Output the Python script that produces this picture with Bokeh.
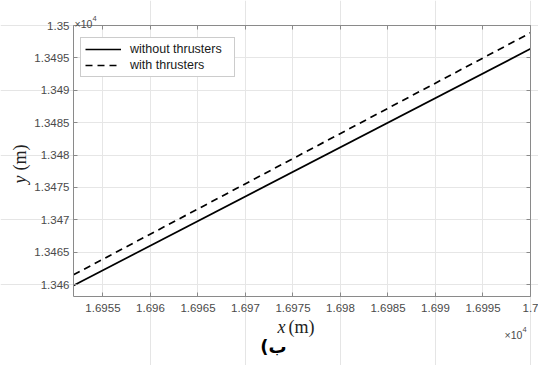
import math
from bokeh.plotting import figure
from bokeh.models import Range1d, LinearAxis, Label, Legend, LegendItem, FixedTicker, Grid
from bokeh.embed import file_html
from bokeh.resources import INLINE

# ---- data ----
x_without = [16951.9, 17000.0]
y_without = [13459.85, 13496.4]
x_with = [16951.9, 17000.0]
y_with = [13461.5, 13498.87]

x_ticks = [16955, 16960, 16965, 16970, 16975, 16980, 16985, 16990, 16995, 17000]
x_tick_labels = ["1.6955", "1.696", "1.6965", "1.697", "1.6975", "1.698",
                 "1.6985", "1.699", "1.6995", "1.7"]
y_ticks = [13460, 13465, 13470, 13475, 13480, 13485, 13490, 13495, 13500]
y_tick_labels = ["1.346", "1.3465", "1.347", "1.3475", "1.348", "1.3485",
                 "1.349", "1.3495", "1.35"]

series_names = ["without thrusters", "with thrusters"]

# axes limits of the plot box
X0, X1 = 16951.9, 17000.0
Y0, Y1 = 13458.15, 13500.0

W, H = 538, 365
# plot box position on the canvas (pixels)
FL, FR, FT, FB = 73, 530, 25, 296

sx = (FR - FL) / (X1 - X0)
sy = (FB - FT) / (Y1 - Y0)
XS, XE = X0 - FL / sx, X1 + (W - FR) / sx
YS, YE = Y0 - (H - FB) / sy, Y1 + FT / sy

def px_x(px):
    return XS + px / sx

def px_y(py):
    return YE - py / sy

AX = "#8a8a8a"
TXT = "#4a4a4a"

p = figure(width=W, height=H, x_range=Range1d(XS, XE), y_range=Range1d(YS, YE),
           output_backend="svg", toolbar_location=None,
           x_axis_location=None, y_axis_location=None,
           min_border=0, min_border_left=0, min_border_right=0,
           min_border_top=0, min_border_bottom=0)
p.background_fill_color = "white"
p.border_fill_color = "white"
p.outline_line_color = None

def make_axis(ticks, labels, show, loc, bounds):
    ax = LinearAxis(ticker=FixedTicker(ticks=ticks), fixed_location=loc, bounds=bounds)
    ax.major_tick_in = 4
    ax.major_tick_out = 0
    ax.minor_tick_line_color = None
    ax.axis_line_color = AX
    ax.axis_line_width = 1
    ax.major_tick_line_color = AX
    if show:
        ax.major_label_overrides = {float(t): l for t, l in zip(ticks, labels)}
        ax.major_label_text_font = "Liberation Sans"
        ax.major_label_text_font_size = "11.5px"
        ax.major_label_text_color = TXT
    else:
        ax.major_label_overrides = {float(t): "" for t in ticks}
        ax.major_label_text_font_size = "0px"
        ax.major_label_standoff = 0
    return ax

bottom_ax = make_axis(x_ticks, x_tick_labels, True, Y0, (X0, X1))
bottom_ax.major_label_standoff = 7
left_ax = make_axis(y_ticks, y_tick_labels, True, X0, (Y0, Y1))
left_ax.major_label_standoff = 4
top_ax = make_axis(x_ticks, x_tick_labels, False, Y1, (X0, X1))
right_ax = make_axis(y_ticks, y_tick_labels, False, X1, (Y0, Y1))
p.add_layout(bottom_ax, "below")
p.add_layout(left_ax, "left")
p.add_layout(top_ax, "above")
p.add_layout(right_ax, "right")

has_cross = "cross_bounds" in Grid.properties()
xgrid = Grid(dimension=0, ticker=FixedTicker(ticks=x_ticks), bounds=(X0, X1),
             grid_line_color="#e6e6e6", grid_line_width=1)
ygrid = Grid(dimension=1, ticker=FixedTicker(ticks=y_ticks), bounds=(Y0, Y1),
             grid_line_color="#e6e6e6", grid_line_width=1)
if has_cross:
    xgrid.cross_bounds = (Y0, Y1)
    ygrid.cross_bounds = (X0, X1)
    p.add_layout(xgrid, "center")
    p.add_layout(ygrid, "center")
else:
    p.segment(x0=x_ticks, y0=[Y0] * len(x_ticks), x1=x_ticks, y1=[Y1] * len(x_ticks),
              line_color="#e6e6e6", line_width=1)
    p.segment(x0=[X0] * len(y_ticks), y0=y_ticks, x1=[X1] * len(y_ticks), y1=y_ticks,
              line_color="#e6e6e6", line_width=1)

r1 = p.line(x_without, y_without, line_color="black", line_width=1.7)
r2 = p.line(x_with, y_with, line_color="black", line_width=1.7, line_dash="7 5")

# legend box: left at x 80, bottom at y 77
legend = Legend(items=[LegendItem(label=series_names[0], renderers=[r1]),
                       LegendItem(label=series_names[1], renderers=[r2])],
                location=(80, H - 77))
legend.border_line_color = "#9a9a9a"
legend.border_line_width = 1
legend.background_fill_color = "white"
legend.background_fill_alpha = 1
legend.label_text_font = "Liberation Sans"
legend.label_text_font_size = "12.5px"
legend.label_text_color = "#1a1a1a"
legend.glyph_width = 36
legend.glyph_height = 12
legend.label_height = 12
legend.label_width = 100
legend.padding = 4
legend.spacing = 2
legend.label_standoff = 9
legend.margin = 0
p.add_layout(legend)

def lab(px, py, text, font, size, color, style="normal", angle=0.0,
        align="left", baseline="alphabetic"):
    p.add_layout(Label(x=px_x(px), y=px_y(py), text=text, text_font=font,
                       text_font_style=style, text_font_size=size, text_color=color,
                       angle=angle, text_align=align, text_baseline=baseline))

# x label
lab(277, 326, "x", "Liberation Serif", "18px", "#222222", style="italic")
lab(288, 326, "(m)", "Liberation Serif", "18px", "#222222")
# y label (rotated)
lab(19, 183, "y", "Liberation Serif", "18px", "#222222", style="italic",
    angle=math.pi / 2, baseline="middle")
lab(19, 170, "(m)", "Liberation Serif", "18px", "#222222",
    angle=math.pi / 2, baseline="middle")
# exponent labels
lab(74, 23, "×10", "Liberation Sans", "10.5px", TXT)
lab(92, 18, "4", "Liberation Sans", "7.5px", TXT)
lab(504, 334, "×10", "Liberation Sans", "10.5px", TXT)
lab(522, 329, "4", "Liberation Sans", "7.5px", TXT)
# caption
lab(273, 346, "(ب", "DejaVu Sans", "18px", "black", style="bold",
    align="center", baseline="middle")

open("out.html", "w").write(file_html(p, INLINE))
